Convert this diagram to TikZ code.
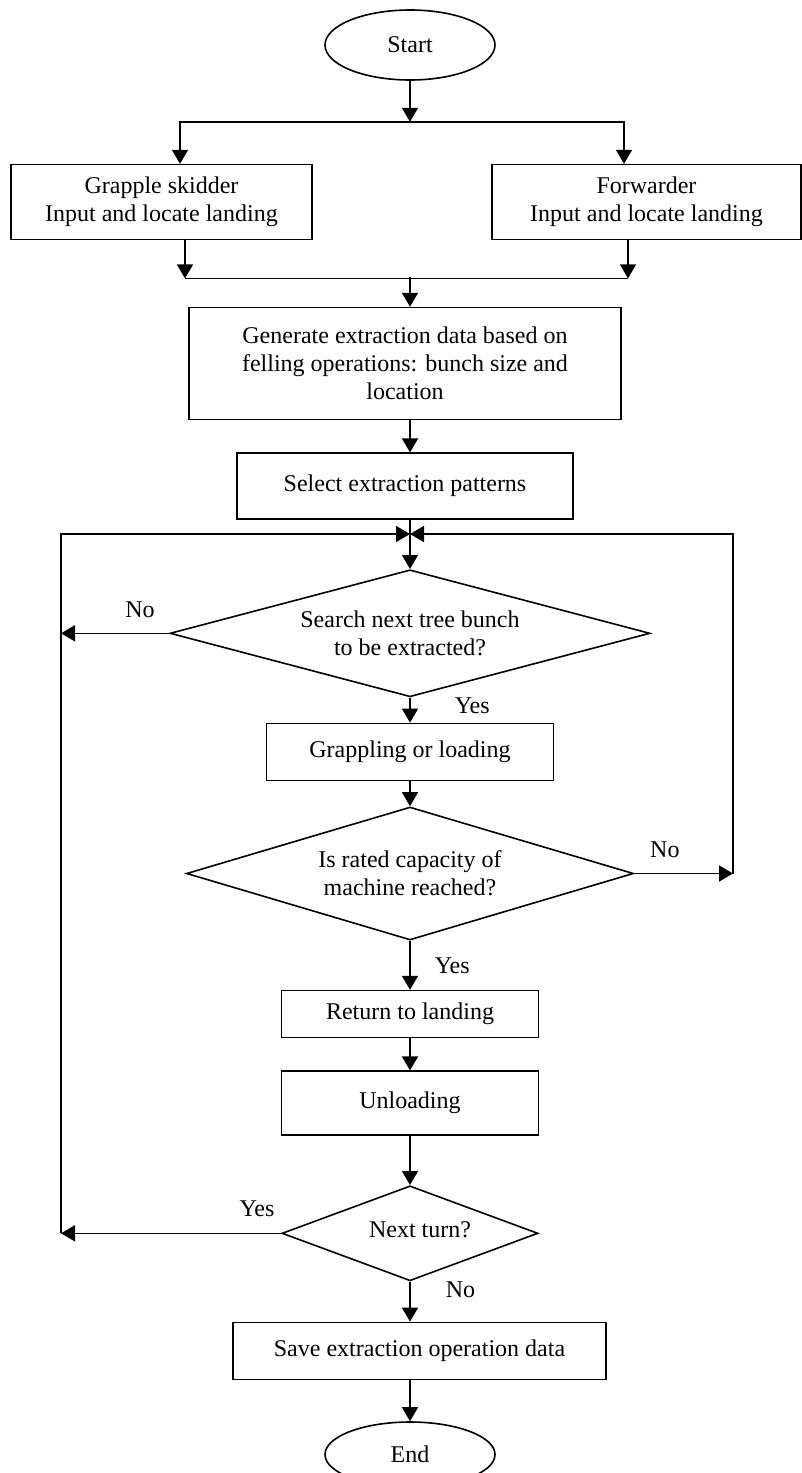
\documentclass[tikz,border=0pt]{standalone}
\usepackage{fontspec}
\setmainfont{Liberation Serif}
\usepackage{tikz}
\usetikzlibrary{positioning,arrows.meta,shapes.geometric}

\begin{document}
\begin{tikzpicture}[
    procbox/.style={
        draw,
        line width=1.6pt,
        align=center,
        inner sep=2pt,
        font=\fontsize{24}{28}\selectfont
    },
    decision/.style={
        draw,
        diamond,
        line width=1.6pt,
        align=center,
        inner sep=0pt,
        font=\fontsize{24}{28}\selectfont
    },
    terminal/.style={
        draw,
        ellipse,
        line width=1.6pt,
        inner sep=0pt,
        minimum width=170pt,
        font=\fontsize{24}{28}\selectfont
    },
    arrow/.style={-{Triangle[length=14pt,width=16pt]}, line width=1.6pt},
    lbl/.style={inner sep=2pt, font=\fontsize{24}{28}\selectfont}
]

\useasboundingbox (0,0) rectangle (802pt,-1473pt);

\node[terminal, minimum height=70pt] (start) at (410pt,-45pt) {Start};

\node[procbox, minimum width=301pt, minimum height=75pt,
    below=83pt of start, xshift=-248.5pt] (skid)
    {Grapple skidder\\Input and locate landing};

\node[procbox, minimum width=309pt, minimum height=75pt,
    below=83pt of start, xshift=236.5pt] (fwd)
    {Forwarder\\Input and locate landing};

\node[procbox, minimum width=432pt, minimum height=112pt,
    below=226pt of start, xshift=-5pt] (gen)
    {Generate extraction data based on\\felling operations: bunch size and\\location};

\node[procbox, minimum width=336pt, minimum height=66pt, below=32pt of gen] (sel)
    {\raisebox{5pt}{Select extraction patterns}};

\node[decision, aspect=3.8, minimum width=480pt, minimum height=127pt,
    below=49pt of sel, xshift=5pt] (search)
    {Search next tree bunch\\to be extracted?};

\node[procbox, minimum width=287pt, minimum height=57pt, below=25pt of search] (grap)
    {Grappling or loading};

\node[decision, aspect=3.36, minimum width=447pt, minimum height=133pt,
    below=25pt of grap] (cap)
    {Is rated capacity of\\machine reached?};

\node[procbox, minimum width=257pt, minimum height=47pt, below=49pt of cap] (ret)
    {Return to landing};

\node[procbox, minimum width=257pt, minimum height=64pt, below=32pt of ret] (unl)
    {\raisebox{-8pt}{Unloading}};

\node[decision, aspect=2.7, minimum width=256pt, minimum height=95pt,
    below=49pt of unl] (turn)
    {\raisebox{8pt}{\hspace*{20pt}Next turn?}};

\node[procbox, minimum width=373pt, minimum height=57pt,
    below=40pt of turn, xshift=9.5pt] (save)
    {Save extraction operation data};

\node[terminal, minimum height=65pt, below=41pt of save, xshift=-9.5pt] (end) {End};

% split and merge
\coordinate[below=41pt of start] (split);
\coordinate (merge) at ([yshift=30pt]search.north |- gen.north);
\coordinate (join) at ([yshift=-14pt]search.north |- sel.south);
\path (join) ++(-349pt,0) coordinate (ltop)
      (join) ++(323pt,0) coordinate (rtop);

\draw[arrow] (start) -- (split);
\draw[arrow] (split) -| ([xshift=18.5pt]skid.north);
\draw[arrow] (split) -| ([xshift=-22.5pt]fwd.north);

\draw[arrow] ([xshift=23.5pt]skid.south) -- ++(0,-38pt) coordinate (ml);
\draw[arrow] ([xshift=-18.5pt]fwd.south) -- ++(0,-38pt) coordinate (mr);
\draw[line width=1.6pt] (ml) -- (mr);
\draw[arrow] (merge) -- (merge |- gen.north);

% main column
\draw[arrow] (gen.south -| merge) -- (sel.north -| merge);
\draw[arrow] (sel.south -| merge) -- (search);
\draw[arrow] (search) -- node[lbl, right=42pt, pos=0.32] {Yes} (grap);
\draw[arrow] (grap) -- (cap);
\draw[arrow] (cap) -- node[lbl, right=22pt, pos=0.51] {Yes} (ret);
\draw[arrow] (ret) -- (unl);
\draw[arrow] (unl) -- (turn);
\draw[arrow] (turn) -- node[lbl, right=33pt, pos=0.2] {No} (turn |- save.north);
\draw[arrow] (save.south -| end) -- (end);

% loops
\draw[arrow] (search.west) -- node[lbl, above=13pt, pos=0.27] {No} (search.west -| ltop);
\draw[arrow] (turn.west) -- node[lbl, above=14pt, pos=0.11] {Yes} (turn.west -| ltop);
\draw[arrow] (turn.west -| ltop) -- (ltop) -- (join);

\draw[arrow] (cap.east) -- node[lbl, above=13pt, pos=0.31] {No} (cap.east -| rtop);
\draw[arrow] (cap.east -| rtop) -- (rtop) -- (join);

\end{tikzpicture}
\end{document}
